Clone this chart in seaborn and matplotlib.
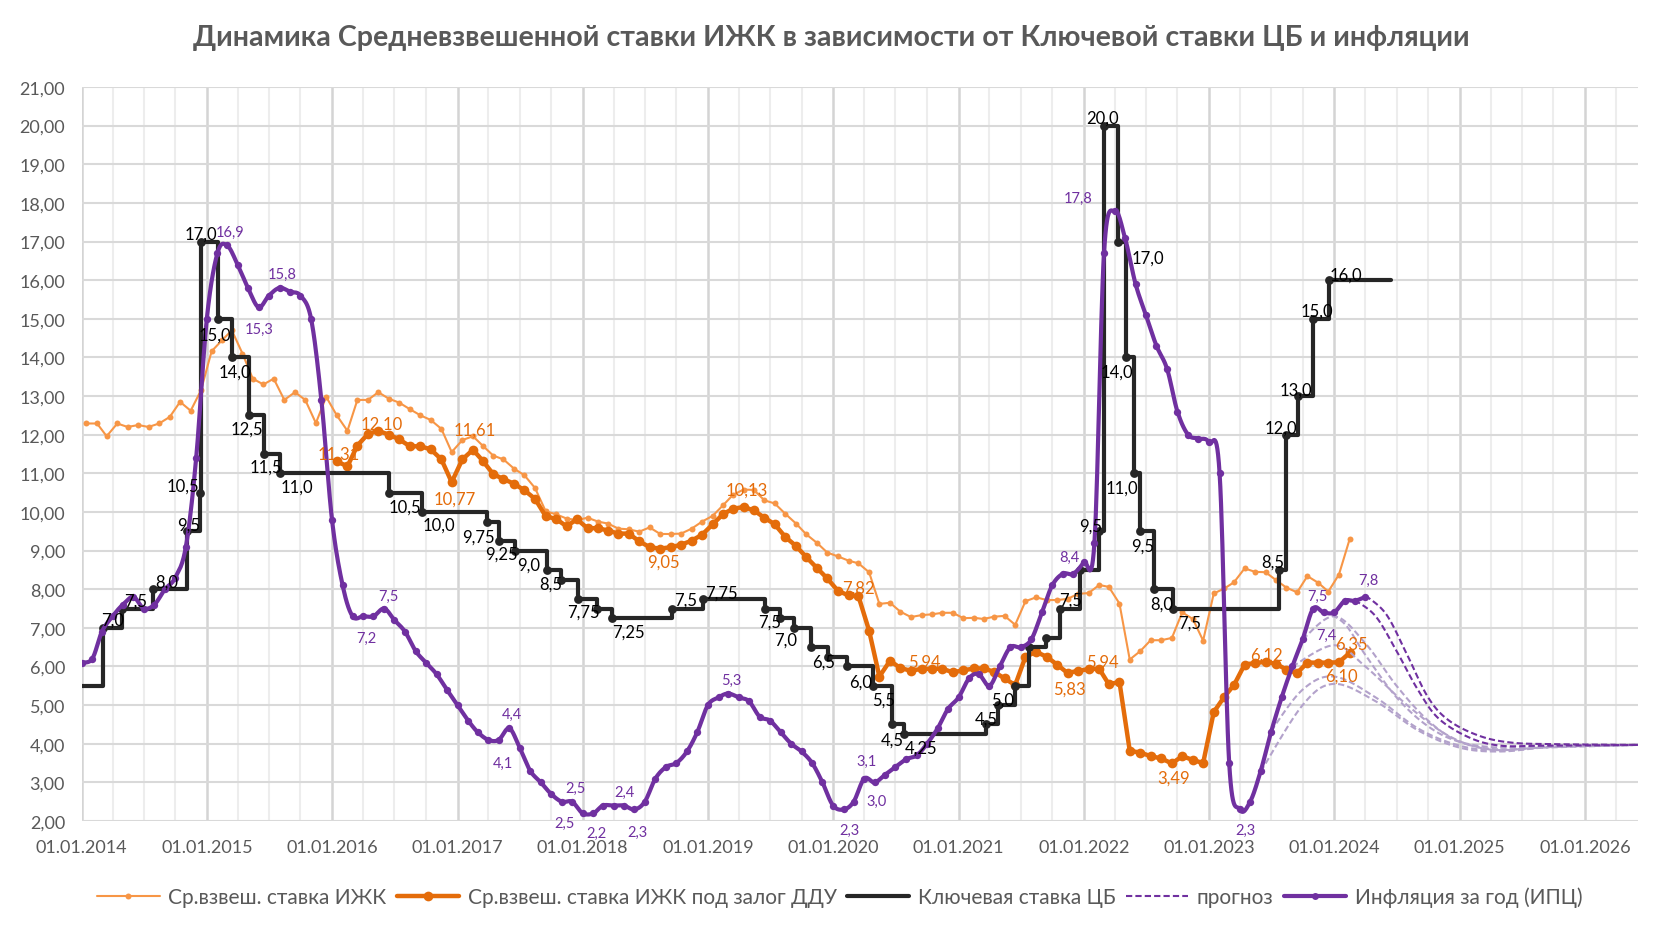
import numpy as np
import pandas as pd
import matplotlib
matplotlib.use('Agg')
import matplotlib.pyplot as plt
import matplotlib.dates as mdates
from matplotlib.lines import Line2D
from matplotlib.ticker import FuncFormatter, MultipleLocator
import seaborn as sns

# ---------------- data ----------------
# Ср.взвеш. ставка ИЖК, monthly, Jan 2014 - Feb 2024
izhk = [12.29, 12.29, 11.96, 12.29, 12.20, 12.25, 12.20, 12.29, 12.46, 12.85, 12.62, 13.15,
        14.16, 14.45, 14.70, 14.10, 13.45, 13.30, 13.45, 12.90, 13.10, 12.90, 12.30, 12.98,
        12.50, 12.10, 12.90, 12.90, 13.10, 12.93, 12.83, 12.66, 12.50, 12.38, 12.15, 11.55,
        11.86, 11.96, 11.72, 11.46, 11.36, 11.12, 10.95, 10.62, 10.02, 9.94, 9.83, 9.79,
        9.85, 9.75, 9.70, 9.57, 9.55, 9.49, 9.60, 9.43, 9.43, 9.44, 9.57, 9.75,
        9.90, 10.18, 10.44, 10.58, 10.57, 10.30, 10.22, 9.95, 9.70, 9.42, 9.20, 8.95,
        8.85, 8.74, 8.67, 8.44, 7.62, 7.65, 7.42, 7.28, 7.33, 7.35, 7.39, 7.39,
        7.25, 7.26, 7.23, 7.29, 7.31, 7.08, 7.69, 7.79, 7.72, 7.72, 7.75, 7.88,
        7.90, 8.11, 8.06, 7.63, 6.18, 6.40, 6.68, 6.68, 6.74, 7.40, 7.23, 6.67,
        7.89, 8.02, 8.18, 8.54, 8.45, 8.44, 8.24, 8.04, 7.92, 8.34, 8.17, 7.94,
        8.38, 9.29]

# Ср.взвеш. ставка ИЖК под залог ДДУ, monthly, Jan 2016 - Feb 2024
ddu = [11.31, 11.18, 11.72, 12.02, 12.10, 12.00, 11.88, 11.70, 11.70, 11.62, 11.36, 10.77,
       11.36, 11.61, 11.33, 10.98, 10.85, 10.73, 10.56, 10.34, 9.89, 9.82, 9.63, 9.81,
       9.58, 9.58, 9.52, 9.44, 9.44, 9.24, 9.09, 9.05, 9.09, 9.15, 9.26, 9.41,
       9.68, 9.95, 10.08, 10.13, 10.04, 9.85, 9.68, 9.35, 9.12, 8.83, 8.55, 8.28,
       7.96, 7.84, 7.82, 6.93, 5.74, 6.15, 5.96, 5.89, 5.94, 5.94, 5.94, 5.85,
       5.90, 5.95, 5.95, 5.86, 5.69, 5.52, 6.25, 6.38, 6.25, 6.05, 5.83, 5.89,
       5.93, 5.94, 5.54, 5.60, 3.82, 3.77, 3.68, 3.62, 3.49, 3.68, 3.58, 3.50,
       4.82, 5.22, 5.52, 6.05, 6.09, 6.12, 6.07, 5.92, 5.83, 6.10, 6.10, 6.10,
       6.11, 6.35]

# Инфляция за год (ИПЦ), monthly, Jan 2014 - Apr 2024
cpi = [6.1, 6.2, 6.9, 7.3, 7.6, 7.8, 7.5, 7.6, 8.0, 8.3, 9.1, 11.4,
       15.0, 16.7, 16.9, 16.4, 15.8, 15.3, 15.6, 15.8, 15.7, 15.6, 15.0, 12.9,
       9.8, 8.1, 7.3, 7.3, 7.3, 7.5, 7.2, 6.9, 6.4, 6.1, 5.8, 5.4,
       5.0, 4.6, 4.3, 4.1, 4.1, 4.4, 3.9, 3.3, 3.0, 2.7, 2.5, 2.5,
       2.2, 2.2, 2.4, 2.4, 2.4, 2.3, 2.5, 3.1, 3.4, 3.5, 3.8, 4.3,
       5.0, 5.2, 5.3, 5.2, 5.1, 4.7, 4.6, 4.3, 4.0, 3.8, 3.5, 3.0,
       2.4, 2.3, 2.5, 3.1, 3.0, 3.2, 3.4, 3.6, 3.7, 4.0, 4.4, 4.9,
       5.2, 5.7, 5.8, 5.5, 6.0, 6.5, 6.5, 6.7, 7.4, 8.1, 8.4, 8.4,
       8.7, 9.2, 16.7, 17.8, 17.1, 15.9, 15.1, 14.3, 13.7, 12.6, 12.0, 11.9,
       11.8, 11.0, 3.5, 2.3, 2.5, 3.3, 4.3, 5.2, 6.0, 6.7, 7.5, 7.4,
       7.4, 7.7, 7.7, 7.8]

# Ключевая ставка ЦБ: dates of change and new value
key_dates = ['2014-01-01', '2014-03-03', '2014-04-28', '2014-07-28', '2014-11-05', '2014-12-12',
             '2014-12-16', '2015-02-02', '2015-03-16', '2015-05-05', '2015-06-16', '2015-08-03',
             '2016-06-14', '2016-09-19', '2017-03-27', '2017-05-02', '2017-06-19', '2017-09-18',
             '2017-10-30', '2017-12-18', '2018-02-12', '2018-03-26', '2018-09-17', '2018-12-17',
             '2019-06-17', '2019-07-29', '2019-09-09', '2019-10-28', '2019-12-16', '2020-02-10',
             '2020-04-27', '2020-06-22', '2020-07-27', '2021-03-22', '2021-04-26', '2021-06-15',
             '2021-07-26', '2021-09-13', '2021-10-25', '2021-12-20', '2022-02-14', '2022-02-28',
             '2022-04-11', '2022-05-04', '2022-05-27', '2022-06-14', '2022-07-25', '2022-09-19',
             '2023-07-24', '2023-08-15', '2023-09-18', '2023-10-30', '2023-12-18', '2024-06-15']
key_rate = [5.5, 7.0, 7.5, 8.0, 9.5, 10.5,
            17.0, 15.0, 14.0, 12.5, 11.5, 11.0,
            10.5, 10.0, 9.75, 9.25, 9.0, 8.5,
            8.25, 7.75, 7.5, 7.25, 7.5, 7.75,
            7.5, 7.25, 7.0, 6.5, 6.25, 6.0,
            5.5, 4.5, 4.25, 4.5, 5.0, 5.5,
            6.5, 6.75, 7.5, 8.5, 9.5, 20.0,
            17.0, 14.0, 11.0, 9.5, 8.0, 7.5,
            8.5, 12.0, 13.0, 15.0, 16.0, 16.0]
key_labels = ['', '7,0', '7,5', '8,0', '9,5', '10,5',
              '17,0', '15,0', '14,0', '12,5', '11,5', '11,0',
              '10,5', '10,0', '9,75', '9,25', '9,0', '8,5',
              '', '7,75', '', '7,25', '7,5', '7,75',
              '7,5', '', '7,0', '6,5', '', '6,0',
              '5,5', '4,5', '4,25', '4,5', '5,0', '',
              '', '', '7,5', '', '9,5', '20,0',
              '17,0', '14,0', '11,0', '9,5', '8,0', '7,5',
              '8,5', '12,0', '13,0', '15,0', '16,0', '']

cpi_label_months = ['2015-03', '2015-06', '2015-08', '2016-04', '2016-06', '2017-05', '2017-06',
                    '2017-12', '2017-11', '2018-02', '2018-05', '2018-06', '2019-03', '2020-02',
                    '2020-04', '2020-05', '2021-11', '2022-04', '2023-04', '2023-11', '2023-12', '2024-04']
cpi_labels = ['16,9', '15,3', '15,8', '7,2', '7,5', '4,1', '4,4', '2,5', '2,5', '2,2', '2,4', '2,3',
              '5,3', '2,3', '3,1', '3,0', '8,4', '17,8', '2,3', '7,5', '7,4', '7,8']

ddu_label_months = ['2016-01', '2016-05', '2016-12', '2017-02', '2018-08', '2019-04', '2020-03',
                    '2020-09', '2021-11', '2022-02', '2022-09', '2023-06', '2024-01', '2024-02']
ddu_labels = ['11,31', '12,10', '10,77', '11,61', '9,05', '10,13', '7,82',
              '5,94', '5,83', '5,94', '3,49', '6,12', '6,10', '6,35']

# прогноз: forecast paths (knots)
fc_dark1_dates = ['2024-04-01', '2024-06-01', '2024-08-01', '2024-10-01', '2024-12-01', '2025-03-01', '2025-06-01', '2025-10-01', '2026-06-05']
fc_dark1 = [7.84, 7.35, 6.3, 5.2, 4.6, 4.2, 4.03, 3.99, 3.97]
fc_dark2_dates = ['2024-03-01', '2024-05-01', '2024-07-01', '2024-09-01', '2024-11-01', '2025-02-01', '2025-05-01', '2025-09-01', '2026-06-05']
fc_dark2 = [7.72, 7.3, 6.4, 5.4, 4.65, 4.15, 3.95, 3.95, 3.97]
fc_light1_dates = ['2023-12-01', '2024-02-01', '2024-04-01', '2024-07-01', '2024-10-01', '2025-01-01', '2025-05-01', '2025-10-01', '2026-06-05']
fc_light1 = [7.44, 7.1, 6.3, 5.2, 4.45, 4.05, 3.9, 3.95, 3.97]
fc_light2_dates = ['2023-10-01', '2024-01-01', '2024-04-01', '2024-07-01', '2024-10-01', '2025-01-01', '2025-05-01', '2025-10-01', '2026-06-05']
fc_light2 = [6.7, 7.3, 6.6, 5.5, 4.6, 4.05, 3.85, 3.93, 3.97]
fc_light3_dates = ['2023-09-01', '2024-01-01', '2024-04-01', '2024-08-01', '2024-12-01', '2025-04-01', '2025-09-01', '2026-06-05']
fc_light3 = [6.0, 6.55, 6.0, 5.0, 4.2, 3.85, 3.9, 3.97]
fc_light4_dates = ['2023-07-01', '2023-10-01', '2024-01-01', '2024-05-01', '2024-09-01', '2025-01-01', '2025-05-01', '2025-10-01', '2026-06-05']
fc_light4 = [4.33, 5.4, 5.74, 5.2, 4.4, 3.95, 3.82, 3.92, 3.97]
fc_light5_dates = ['2023-06-01', '2023-10-01', '2024-01-01', '2024-05-01', '2024-09-01', '2025-01-01', '2025-05-01', '2025-10-01', '2026-06-05']
fc_light5 = [3.28, 5.0, 5.55, 5.1, 4.35, 3.9, 3.8, 3.92, 3.97]

# ---------------- helpers ----------------
C_IZHK = '#F79646'
C_DDU = '#E46C0A'
C_KEY = '#262626'
C_CPI = '#7030A0'
C_FC_LIGHT = '#B3A2CB'
C_TXT = '#595959'


def excel_smooth(dates, vals, steps=14):
    # bezier smoothing like excel "smoothed line"
    x = mdates.date2num(pd.to_datetime(dates))
    P = np.column_stack([x, np.asarray(vals, float)])
    P = np.vstack([P[0], P, P[-1]])
    t = np.linspace(0, 1, steps, endpoint=False)[:, None]
    out = []
    for i in range(1, len(P) - 2):
        p0, p1, p2, p3 = P[i - 1], P[i], P[i + 1], P[i + 2]
        c1 = p1 + (p2 - p0) / 6
        c2 = p2 - (p3 - p1) / 6
        out.append((1 - t) ** 3 * p1 + 3 * (1 - t) ** 2 * t * c1 + 3 * (1 - t) * t ** 2 * c2 + t ** 3 * p2)
    out.append(P[-2][None, :])
    out = np.vstack(out)
    return pd.to_datetime(out[:, 0], unit='D'), out[:, 1]


# orange series sit in the middle of the month
izhk_dates = pd.date_range('2014-01-01', periods=len(izhk), freq='MS') + pd.Timedelta(days=14)
ddu_dates = pd.date_range('2016-01-01', periods=len(ddu), freq='MS') + pd.Timedelta(days=14)
cpi_dates = pd.date_range('2014-01-01', periods=len(cpi), freq='MS')
key_dt = pd.to_datetime(key_dates)

sns.set_theme(style='white')
plt.rcParams['font.family'] = ['Lato', 'DejaVu Sans']

fig = plt.figure(figsize=(16.66, 9.37), dpi=100)
ax = fig.add_axes([0.049, 0.1227, 0.9342, 0.7834])

# thin orange
sns.lineplot(x=izhk_dates, y=izhk, ax=ax, color=C_IZHK, lw=1.5, marker='o', markersize=4.3,
             markeredgewidth=0, estimator=None, sort=False, zorder=3)
# thick orange
sns.lineplot(x=ddu_dates, y=ddu, ax=ax, color=C_DDU, lw=3.2, marker='o', markersize=7,
             markeredgewidth=0, estimator=None, sort=False, zorder=4)
# key rate steps
sns.lineplot(x=key_dt, y=key_rate, ax=ax, color=C_KEY, lw=3, drawstyle='steps-post',
             estimator=None, sort=False, zorder=5)
sns.scatterplot(x=key_dt[1:-1], y=key_rate[1:-1], ax=ax, color=C_KEY, s=40, linewidth=0, zorder=6)

# forecasts
for d, v, c in [(fc_light5_dates, fc_light5, C_FC_LIGHT),
                (fc_light4_dates, fc_light4, C_FC_LIGHT),
                (fc_light3_dates, fc_light3, C_FC_LIGHT),
                (fc_light2_dates, fc_light2, C_FC_LIGHT),
                (fc_light1_dates, fc_light1, C_FC_LIGHT),
                (fc_dark2_dates, fc_dark2, C_CPI),
                (fc_dark1_dates, fc_dark1, C_CPI)]:
    sx, sy = excel_smooth(d, v)
    sns.lineplot(x=sx, y=sy, ax=ax, color=c, lw=1.5, linestyle=(0, (3, 1.5)),
                 estimator=None, sort=False, zorder=6)

# inflation
sx, sy = excel_smooth(cpi_dates, cpi)
sns.lineplot(x=sx, y=sy, ax=ax, color=C_CPI, lw=3, estimator=None, sort=False, zorder=7)
sns.scatterplot(x=cpi_dates, y=cpi, ax=ax, color=C_CPI, s=28, linewidth=0, zorder=8)

# ---------------- data labels ----------------
key_off = [(0, 0), (10, 8), (14, 8), (14, 8), (1, 7), (-17, 7),
           (0, 8), (-3, -16), (3, -14), (-2, -13), (2, -13), (17, -13),
           (16, -14), (17, -13), (-8, -15), (2, -13), (13, -14), (4, -14),
           (0, 0), (6, -13), (0, 0), (17, -13), (14, 9), (19, 6),
           (4, -13), (0, 0), (-8, -12), (13, -14), (0, 0), (14, -15),
           (10, -14), (0, -15), (17, -14), (0, 6), (5, 6), (0, 0),
           (0, 0), (0, 0), (10, 9), (0, 0), (-8, 6), (-1, 8),
           (30, -16), (-9, -14), (-12, -14), (3, -14), (8, -14), (16, -14),
           (-6, 8), (-6, 7), (-2, 6), (4, 8), (17, 6), (0, 0)]
for d, v, txt, off in zip(key_dt, key_rate, key_labels, key_off):
    if txt:
        ax.annotate(txt, (d, v), xytext=off, textcoords='offset pixels', ha='center', va='center',
                    fontsize=12, color='black', zorder=10)

cpi_off = [(3, 13), (1, -22), (3, 14), (3, -22), (4, 13), (4, -23), (3, 14),
           (3, 14), (3, -21), (3, -20), (1, 14), (3, -22), (3, 14), (6, -20),
           (2, 18), (2, -18), (7, 17), (-37, 13), (6, -20), (4, 13), (3, -22), (3, 17)]
cpi_s = pd.Series(cpi, index=cpi_dates)
for m, txt, off in zip(cpi_label_months, cpi_labels, cpi_off):
    d = pd.Timestamp(m + '-01')
    ax.annotate(txt, (d, cpi_s[d]), xytext=off, textcoords='offset pixels', ha='center', va='center',
                fontsize=10.5, color=C_CPI, zorder=10)

ddu_off = [(2, 8), (3, 7), (3, -16), (2, 20), (3, -13), (3, 17), (0, 9),
           (3, 7), (2, -16), (3, 7), (2, -14), (1, 7), (2, -13), (2, 9)]
ddu_s = pd.Series(ddu, index=ddu_dates)
for m, txt, off in zip(ddu_label_months, ddu_labels, ddu_off):
    d = pd.Timestamp(m + '-15')
    ax.annotate(txt, (d, ddu_s[d]), xytext=off, textcoords='offset pixels', ha='center', va='center',
                fontsize=12, color=C_DDU, zorder=10)

# ---------------- axes ----------------
ax.set_xlim(pd.Timestamp('2014-01-01'), pd.Timestamp('2026-06-05'))
ax.set_ylim(2, 21)
ax.yaxis.set_major_locator(MultipleLocator(1))
ax.yaxis.set_major_formatter(FuncFormatter(lambda v, p: f'{v:.2f}'.replace('.', ',')))
ax.xaxis.set_major_locator(mdates.YearLocator())
ax.xaxis.set_minor_locator(mdates.MonthLocator(bymonth=[4, 7, 10]))
ax.xaxis.set_major_formatter(mdates.DateFormatter('%d.%m.%Y'))
ax.grid(which='major', axis='y', color='#D9D9D9', lw=1.5, zorder=0)
ax.grid(which='major', axis='x', color='#D4D4D4', lw=1.8, zorder=0)
ax.grid(which='minor', axis='x', color='#EDEDED', lw=1.5, zorder=0)
ax.set_axisbelow(True)
for s in ax.spines.values():
    s.set_visible(False)
ax.tick_params(axis='both', which='both', length=0, labelsize=13, colors=C_TXT)
ax.tick_params(axis='y', pad=12)
ax.tick_params(axis='x', pad=13)
ax.set_xlabel('')
ax.set_ylabel('')

fig.text(0.499, 0.959, 'Динамика Средневзвешенной ставки ИЖК в зависимости от Ключевой ставки ЦБ и инфляции',
         ha='center', va='center', fontsize=20.6, fontweight='bold', color=C_TXT)

handles = [Line2D([], [], color=C_IZHK, lw=1.5, marker='o', markersize=4.3, markeredgewidth=0),
           Line2D([], [], color=C_DDU, lw=3.2, marker='o', markersize=7, markeredgewidth=0),
           Line2D([], [], color=C_KEY, lw=3),
           Line2D([], [], color=C_CPI, lw=1.5, linestyle=(0, (3, 1.5))),
           Line2D([], [], color=C_CPI, lw=3, marker='o', markersize=5, markeredgewidth=0)]
names = ['Ср.взвеш. ставка ИЖК', 'Ср.взвеш. ставка ИЖК под залог ДДУ', 'Ключевая ставка ЦБ',
         'прогноз', 'Инфляция за год (ИПЦ)']
leg = fig.legend(handles, names, loc='center', bbox_to_anchor=(0.504, 0.042), ncol=5, frameon=False,
                 fontsize=15, handlelength=3.0, handletextpad=0.4, columnspacing=0.5)
for t in leg.get_texts():
    t.set_color(C_TXT)

fig.savefig('out.png', dpi=100)
